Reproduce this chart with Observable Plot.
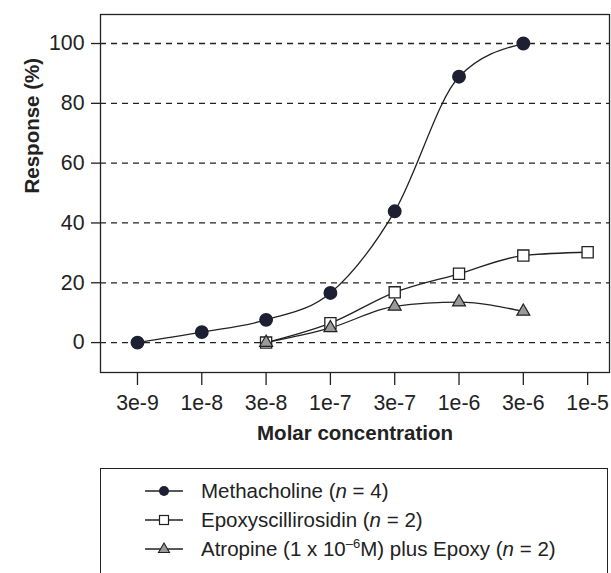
<!DOCTYPE html>
<html>
<head>
<meta charset="utf-8">
<script src="https://cdn.jsdelivr.net/npm/d3@7"></script>
<script src="https://cdn.jsdelivr.net/npm/@observablehq/plot@0.6"></script>
<style>
  body { margin: 0; background: #fff; font-family: "Liberation Sans", Arial, Helvetica, sans-serif; }
  #legend { position: absolute; left: 100px; top: 468px; width: 508px; height: 120px;
    border: 1.3px solid #222; box-sizing: border-box; }
  .item { position: absolute; left: 44px; display: flex; align-items: center; font-size: 20.5px; color: #222; white-space: nowrap; }
  .item svg { margin-right: 18px; }
</style>
</head>
<body>
<div id="chart"></div>
<div id="legend"></div>
<script>
const concentrations = ["3e-9", "1e-8", "3e-8", "1e-7", "3e-7", "1e-6", "3e-6", "1e-5"];
const methacholine = [0, 3.5, 7.6, 16.6, 43.9, 88.9, 100, null];
const epoxyscillirosidin = [null, null, 0, 6.5, 16.8, 23, 29.1, 30.2];
const atropineEpoxy = [null, null, 0, 4.9, 12.1, 13.5, 10.4, null];
const yTicks = [0, 20, 40, 60, 80, 100];

function rows(values) {
  return values.map((v, i) => ({i, v})).filter(d => d.v != null);
}
const meth = rows(methacholine), epo = rows(epoxyscillirosidin), atr = rows(atropineEpoxy);
const ink = "#222";
const FS = 20.5;
const TFS = 21.3;

const chart = Plot.plot({
  width: 611,
  height: 460,
  marginLeft: 100,
  marginRight: 2,
  marginTop: 14,
  marginBottom: 88,
  style: {fontFamily: "'Liberation Sans', Arial, Helvetica, sans-serif", color: ink, background: "#fff"},
  x: {type: "linear", domain: [-0.575, 7.34], label: null},
  y: {domain: [-10, 109.7], label: null},
  marks: [
    Plot.ruleY(yTicks, {stroke: ink, strokeWidth: 1.3, strokeDasharray: "6,5"}),
    Plot.frame({stroke: ink, strokeWidth: 1.3}),
    Plot.axisX({ticks: d3.range(concentrations.length), tickFormat: i => concentrations[i], tickSize: 13, tickPadding: 9, stroke: ink, strokeWidth: 1.3, fontSize: TFS, fill: ink, label: null}),
    Plot.axisY({ticks: yTicks, tickSize: 9, tickPadding: 7, stroke: ink, strokeWidth: 1.3, fontSize: TFS, fill: ink, label: null}),
    Plot.line(epo, {x: "i", y: "v", curve: "monotone-x", stroke: ink, strokeWidth: 1.3}),
    Plot.line(atr, {x: "i", y: "v", curve: "monotone-x", stroke: ink, strokeWidth: 1.3}),
    Plot.line(meth, {x: "i", y: "v", curve: "monotone-x", stroke: ink, strokeWidth: 1.3}),
    Plot.dot(epo, {x: "i", y: "v", symbol: "square", r: 6.3, fill: "#fff", stroke: ink, strokeWidth: 1.3}),
    Plot.dot(atr, {x: "i", y: "v", symbol: "triangle", r: 4.8, fill: "#9a9a9a", stroke: ink, strokeWidth: 1.2}),
    Plot.dot(meth, {x: "i", y: "v", r: 6.2, fill: "#1d1f33", stroke: "#1d1f33"}),
    Plot.text(["Molar concentration"], {frameAnchor: "bottom", dy: 67, fontWeight: "bold", fontSize: FS, fill: ink}),
    Plot.text(["Response (%)"], {frameAnchor: "left", dx: -68, rotate: -90, fontWeight: "bold", fontSize: FS, fill: ink})
  ]
});
document.getElementById("chart").appendChild(chart);

const legend = document.getElementById("legend");
const items = [
  {html: "Methacholine (<i>n</i> = 4)", sym: "circle"},
  {html: "Epoxyscillirosidin (<i>n</i> = 2)", sym: "square"},
  {html: "Atropine (1 x 10<sup style='font-size:13px;vertical-align:8px'>–6</sup>M) plus Epoxy (<i>n</i> = 2)", sym: "triangle"}
];
items.forEach((it, k) => {
  const div = document.createElement("div");
  div.className = "item";
  div.style.top = (10 + k * 28.5) + "px";
  let s;
  if (it.sym === "circle") s = `<circle cx="19" cy="12" r="5" fill="#1d1f33"/>`;
  else if (it.sym === "square") s = `<rect x="14.5" y="7.5" width="9" height="9" fill="#fff" stroke="${ink}" stroke-width="1.2"/>`;
  else s = `<path d="M19,6 L24.5,15.5 L13.5,15.5 Z" fill="#9a9a9a" stroke="${ink}" stroke-width="1.1"/>`;
  div.innerHTML = `<svg width="38" height="24"><line x1="0" x2="38" y1="12" y2="12" stroke="${ink}" stroke-width="1.3"/>${s}</svg><span>${it.html}</span>`;
  legend.appendChild(div);
});
</script>
</body>
</html>
